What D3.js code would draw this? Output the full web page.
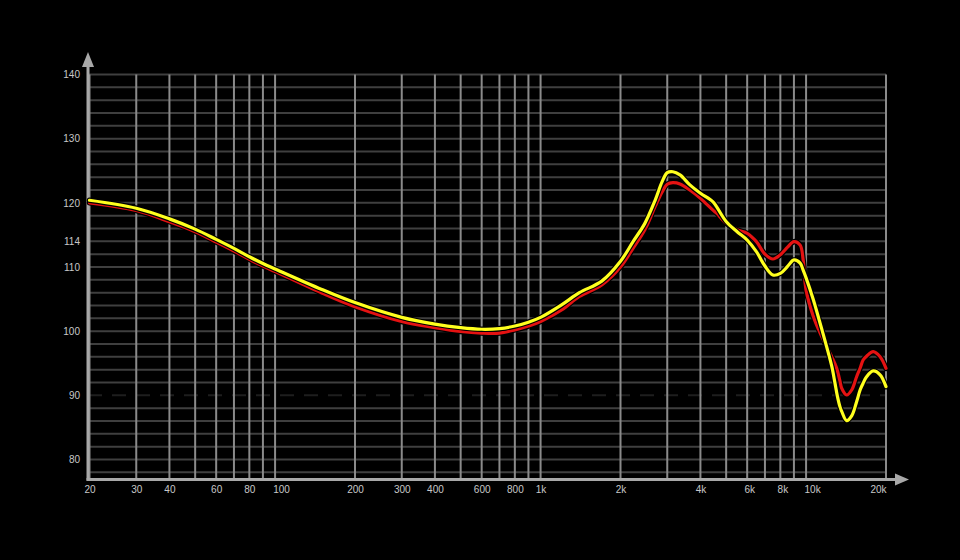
<!DOCTYPE html>
<html><head><meta charset="utf-8">
<script src="https://cdn.jsdelivr.net/npm/d3@7"></script>
<style>html,body{margin:0;padding:0;background:#000;}svg{display:block;}</style>
</head><body>
<svg id="chart" width="960" height="560"></svg>
<script>
const freqs = [20,30,40,50,60,70,80,90,100,150,200,300,400,500,600,700,800,900,1000,1200,1400,1700,2000,2230,2470,2700,2870,3000,3150,3350,3650,4000,4450,4600,5000,5500,6000,6500,7000,7500,8000,8500,9000,9500,9750,10000,10650,11300,11950,12500,12850,13100,13420,13620,14220,14850,15500,16000,16400,16900,17900,19000,20000];
const yellowDb = [120.4,119.15,117.5,115.9,114.3,112.9,111.6,110.55,109.7,106.5,104.45,102.15,101.1,100.55,100.3,100.4,100.8,101.4,102.15,104.1,106.0,107.8,110.9,113.95,116.8,120.4,123.3,124.7,124.85,124.35,122.8,121.5,120.2,119.4,117.1,115.5,114.2,112.4,110.15,108.75,109.0,110.05,111.1,110.6,109.5,108.3,104.9,101.2,97.6,94.5,91.9,90.0,88.2,87.5,86.05,86.8,89.0,90.9,91.9,92.9,93.8,93.2,91.35];
const redDb = [120.0,118.8,117.05,115.5,113.9,112.5,111.2,110.15,109.3,105.95,103.8,101.5,100.55,99.95,99.7,99.7,100.2,100.8,101.5,103.3,105.4,107.2,110.0,112.9,115.8,119.4,121.7,122.9,123.15,122.95,122.0,120.7,118.9,118.4,116.8,115.8,115.25,113.95,112.0,111.25,111.9,113.05,113.95,113.4,111.1,106.4,102.3,99.7,97.6,96.0,94.9,93.96,92.2,91.1,90.05,90.83,92.9,94.3,95.5,96.1,96.8,96.0,94.2];
const xTickValues = [20,30,40,60,80,100,200,300,400,600,800,1000,2000,4000,6000,8000,10000,20000];
const xTickLabels = ["20","30","40","60","80","100","200","300","400","600","800","1k","2k","4k","6k","8k","10k","20k"];
const xGridValues = [20,30,40,50,60,70,80,90,100,200,300,400,500,600,700,800,900,1000,2000,3000,4000,5000,6000,7000,8000,9000,10000,20000];
const yTickValues = [140,130,120,114,110,100,90,80];
const yGridValues = [78,80,82,84,86,88,90,92,94,96,98,100,102,104,106,108,110,112,114,116,118,120,122,124,126,128,130,132,134,136,138,140];

const svg = d3.select("#chart");
svg.append("rect").attr("width",960).attr("height",560).attr("fill","#000");
const x = d3.scaleLog().domain([20,20000]).range([89.5,886]);
const y = d3.scaleLinear().domain([80,140]).range([459.5,74.5]);
const yBottom = 479.5, yTop = y(140);

const grid = svg.append("g");
grid.selectAll("line.h").data(yGridValues).join("line")
  .attr("x1",88).attr("x2",x(20000))
  .attr("y1",d=>y(d)).attr("y2",d=>y(d))
  .attr("stroke",d=>d===90?"#1e1e1e":"#3f3f3f")
  .attr("stroke-width",2)
  .attr("stroke-dasharray",d=>d===90?"14,10":null);
grid.selectAll("line.v").data(xGridValues).join("line")
  .attr("x1",d=>x(d)).attr("x2",d=>x(d))
  .attr("y1",yTop).attr("y2",yBottom)
  .attr("stroke","#8a8a8a").attr("stroke-width",2);

// axes
const axisColor = "#a8a8a8";
svg.append("line").attr("x1",88).attr("x2",88).attr("y1",yBottom+1).attr("y2",64)
  .attr("stroke",axisColor).attr("stroke-width",3);
svg.append("path").attr("d","M82,67 L88,52 L94,67 Z").attr("fill",axisColor);
svg.append("line").attr("x1",86.5).attr("x2",898).attr("y1",yBottom).attr("y2",yBottom)
  .attr("stroke",axisColor).attr("stroke-width",3);
svg.append("path").attr("d",`M895,${yBottom-6} L909,${yBottom} L895,${yBottom+6} Z`).attr("fill",axisColor);

const font = "'Liberation Sans', Arial, sans-serif";
const xAxis = d3.axisBottom(x).tickValues(xTickValues)
  .tickFormat((d,i)=>xTickLabels[i]).tickSize(0).tickPadding(6);
const gx = svg.append("g").attr("transform",`translate(0,${yBottom})`).call(xAxis);
gx.select(".domain").remove();
gx.selectAll("text").attr("fill","#c8c8c8").style("font-family",font).style("font-size","10px")
  .attr("dx",d=> d===100?6:(d===10000?6:(d===20000?-8:(d===6000||d===8000?2:0))));

const yAxis = d3.axisLeft(y).tickValues(yTickValues).tickSize(0).tickPadding(8);
const gy = svg.append("g").attr("transform","translate(88,0)").call(yAxis);
gy.select(".domain").remove();
gy.selectAll("text").attr("fill","#c8c8c8").style("font-family",font).style("font-size","10px");

const line = vals => d3.line().x((d,i)=>x(freqs[i])).y(d=>y(d)).curve(d3.curveCatmullRom.alpha(0.5))(vals);
const series = [{vals:redDb,color:"#e41212"},{vals:yellowDb,color:"#ffff1e"}];
series.forEach(s=>{
  svg.append("path").attr("d",line(s.vals)).attr("fill","none")
    .attr("stroke","#000").attr("stroke-width",5.5).attr("stroke-linejoin","round").attr("stroke-linecap","round");
  svg.append("path").attr("d",line(s.vals)).attr("fill","none")
    .attr("stroke",s.color).attr("stroke-width",3.2).attr("stroke-linejoin","round").attr("stroke-linecap","round");
});
</script>
</body></html>
